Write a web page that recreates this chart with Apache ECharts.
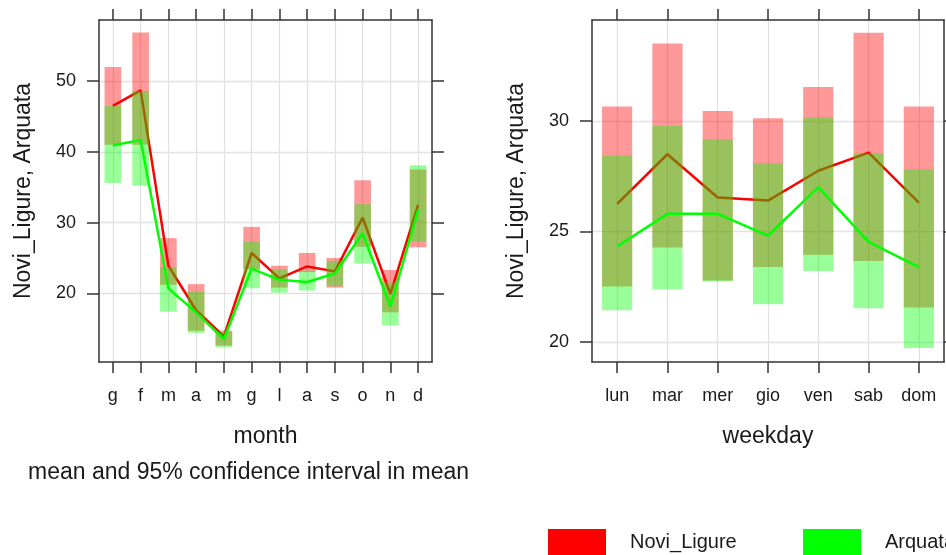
<!DOCTYPE html>
<html>
<head>
<meta charset="utf-8">
<script src="https://cdn.jsdelivr.net/npm/echarts@6/dist/echarts.min.js"></script>
<style>
html,body{margin:0;padding:0;background:#fff;}
#chart{width:946px;height:555px;}
</style>
</head>
<body>
<div id="chart"></div>
<script>
// ---- data ----
const months = ['g','f','m','a','m','g','l','a','s','o','n','d'];
const monthNoviLow  = [41.0, 41.0, 21.2, 14.7, 12.6, 23.4, 20.8, 23.0, 20.8, 26.6, 17.3, 26.5];
const monthNoviHigh = [52.0, 56.9, 27.8, 21.3, 14.7, 29.4, 23.9, 25.7, 25.0, 36.0, 23.3, 37.5];
const monthNoviMean = [46.5, 48.7, 23.9, 17.6, 13.9, 25.7, 22.1, 23.8, 23.1, 30.7, 19.9, 32.5];
const monthArqLow   = [35.6, 35.2, 17.4, 14.4, 12.4, 20.7, 20.1, 20.4, 21.0, 24.2, 15.5, 27.3];
const monthArqHigh  = [46.5, 48.6, 23.7, 20.2, 14.6, 27.3, 23.4, 23.2, 24.6, 32.6, 21.5, 38.1];
const monthArqMean  = [40.9, 41.7, 20.7, 17.3, 13.5, 23.5, 21.9, 21.6, 22.8, 28.5, 18.1, 31.8];
const monthTicks = [20, 30, 40, 50];

const weekdays = ['lun','mar','mer','gio','ven','sab','dom'];
const dayNoviLow  = [22.51, 24.28, 22.78, 23.39, 23.95, 23.67, 21.56];
const dayNoviHigh = [30.66, 33.52, 30.46, 30.13, 31.55, 34.00, 30.66];
const dayNoviMean = [26.25, 28.50, 26.54, 26.40, 27.75, 28.57, 26.31];
const dayArqLow   = [21.43, 22.39, 22.74, 21.71, 23.21, 21.52, 19.72];
const dayArqHigh  = [28.43, 29.78, 29.18, 28.09, 30.18, 28.55, 27.82];
const dayArqMean  = [24.32, 25.80, 25.80, 24.81, 27.01, 24.53, 23.39];
const dayTicks = [20, 25, 30];

const seriesNames = ['Novi_Ligure', 'Arquata'];
const yTitle = 'Novi_Ligure, Arquata';
const subTitle = 'mean and 95% confidence interval in mean';

// ---- styling ----
const FONT = "'Liberation Sans', Arial, sans-serif";
const LINE = '#333';
const TXT = '#1a1a1a';
const GRIDC = '#e2e2e2';
const RED = '#ff0000', GREEN = '#00ff00';
const RED_A = 'rgba(255,0,0,0.4)', GREEN_A = 'rgba(0,255,0,0.4)';

const grids = [
  {left: 99, top: 20, width: 333, height: 342},
  {left: 592, top: 20, width: 352, height: 342}
];

function xAxes(gi, cats, name) {
  return [
    {
      type: 'category', gridIndex: gi, position: 'bottom', data: cats, boundaryGap: true,
      name: name, nameLocation: 'middle', nameGap: 63,
      nameTextStyle: {fontFamily: FONT, fontSize: 23, color: TXT},
      axisLine: {show: true, lineStyle: {color: LINE, width: 1.5}},
      axisTick: {show: true, alignWithLabel: true, length: 11, lineStyle: {color: LINE, width: 1.5}},
      axisLabel: {show: true, margin: 25, fontFamily: FONT, fontSize: 18, color: TXT, interval: 0},
      splitLine: {show: true, alignWithLabel: true, lineStyle: {color: GRIDC, width: 1.3}}
    },
    {
      type: 'category', gridIndex: gi, position: 'top', data: cats, boundaryGap: true,
      axisLine: {show: true, lineStyle: {color: LINE, width: 1.5}},
      axisTick: {show: true, alignWithLabel: true, length: 11, lineStyle: {color: LINE, width: 1.5}},
      axisLabel: {show: false},
      splitLine: {show: false}
    }
  ];
}

function yAxes(gi, min, max, ticks) {
  return [
    {
      type: 'value', gridIndex: gi, position: 'left', min: min, max: max,
      name: yTitle, nameLocation: 'middle', nameGap: 64, nameRotate: 90,
      nameTextStyle: {fontFamily: FONT, fontSize: 23, color: TXT},
      axisLine: {show: true, lineStyle: {color: LINE, width: 1.5}},
      axisTick: {show: true, length: 12, customValues: ticks, lineStyle: {color: LINE, width: 1.5}},
      axisLabel: {show: true, margin: 23, customValues: ticks, fontFamily: FONT, fontSize: 18, color: TXT},
      splitLine: {show: true, lineStyle: {color: GRIDC, width: 1.3}}
    },
    {
      type: 'value', gridIndex: gi, position: 'right', min: min, max: max,
      axisLine: {show: true, lineStyle: {color: LINE, width: 1.5}},
      axisTick: {show: true, length: 12, customValues: ticks, lineStyle: {color: LINE, width: 1.5}},
      axisLabel: {show: false, customValues: ticks},
      splitLine: {show: false}
    }
  ];
}

function panelSeries(p, low1, high1, mean1, low2, high2, mean2) {
  const xi = p * 2, yi = p * 2;
  const range = (lo, hi) => hi.map((h, i) => h - lo[i]);
  const base = (name, stack, data, z) => ({
    name: name, type: 'bar', xAxisIndex: xi, yAxisIndex: yi, stack: stack, data: data,
    barWidth: '60%', barGap: '-100%', silent: true, z: z,
    itemStyle: {color: 'rgba(0,0,0,0)'}, emphasis: {disabled: true}
  });
  const band = (name, stack, data, color, z) => ({
    name: name, type: 'bar', xAxisIndex: xi, yAxisIndex: yi, stack: stack, data: data,
    barWidth: '60%', barGap: '-100%', z: z,
    itemStyle: {color: color}, emphasis: {disabled: true}
  });
  const line = (name, data, color, z) => ({
    name: name, type: 'line', xAxisIndex: xi, yAxisIndex: yi, data: data, z: z,
    symbol: 'none', smooth: false, lineStyle: {color: color, width: 2.5}, itemStyle: {color: color},
    emphasis: {disabled: true}
  });
  return [
    base('_b1_' + p, 'n' + p, low1, 2),
    band(seriesNames[0], 'n' + p, range(low1, high1), RED_A, 2),
    line(seriesNames[0], mean1, RED, 3),
    base('_b2_' + p, 'a' + p, low2, 4),
    band(seriesNames[1], 'a' + p, range(low2, high2), GREEN_A, 4),
    line(seriesNames[1], mean2, GREEN, 5)
  ];
}

function legendFor(name, color, left) {
  return {
    left: left, top: 529, padding: 0, icon: 'rect', itemWidth: 58, itemHeight: 26,
    selectedMode: false,
    textStyle: {fontFamily: FONT, fontSize: 20, color: TXT, padding: [0, 0, 0, 19]},
    data: [{name: name, itemStyle: {color: color}}]
  };
}

const chart = echarts.init(document.getElementById('chart'), null, {renderer: 'canvas'});
chart.setOption({
  animation: false,
  backgroundColor: '#ffffff',
  textStyle: {fontFamily: FONT},
  grid: grids,
  xAxis: [...xAxes(0, months, 'month'), ...xAxes(1, weekdays, 'weekday')],
  yAxis: [...yAxes(0, 10.28, 58.66, monthTicks), ...yAxes(1, 19.09, 34.58, dayTicks)],
  legend: [legendFor(seriesNames[0], RED, 548), legendFor(seriesNames[1], GREEN, 803)],
  graphic: [{
    type: 'text', left: 248 - 220, top: 461,
    style: {text: subTitle, font: '23px ' + FONT, fill: TXT, width: 440, align: 'center'}
  }],
  series: [
    ...panelSeries(0, monthNoviLow, monthNoviHigh, monthNoviMean, monthArqLow, monthArqHigh, monthArqMean),
    ...panelSeries(1, dayNoviLow, dayNoviHigh, dayNoviMean, dayArqLow, dayArqHigh, dayArqMean)
  ]
});
</script>
</body>
</html>
